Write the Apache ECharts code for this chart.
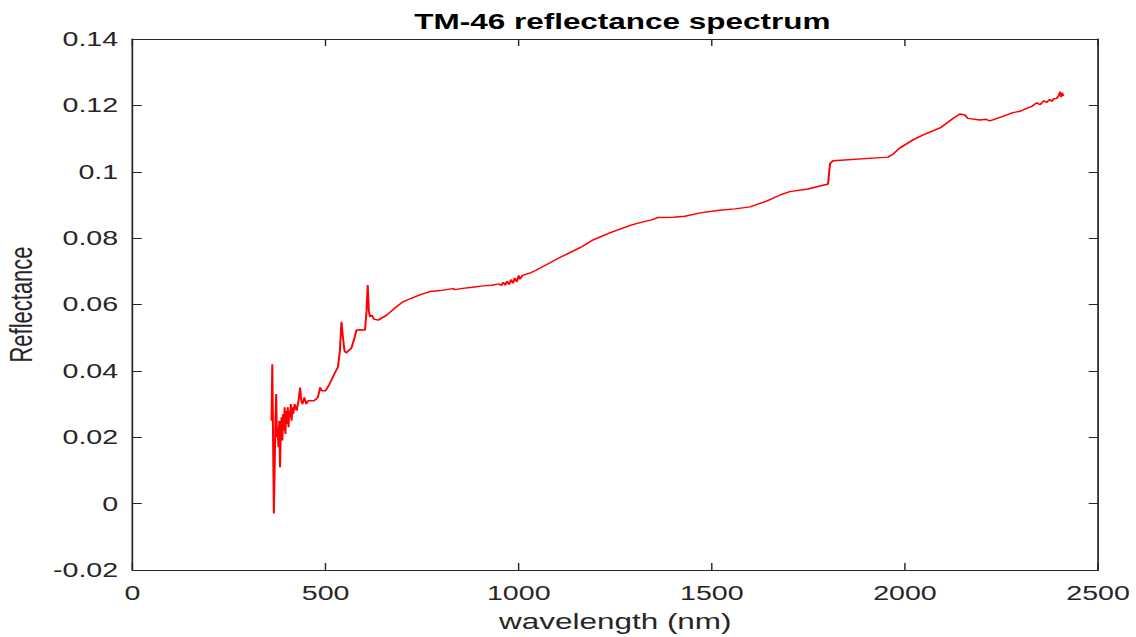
<!DOCTYPE html>
<html>
<head>
<meta charset="utf-8">
<script src="https://cdn.jsdelivr.net/npm/echarts@6/dist/echarts.min.js"></script>
<style>
html,body{margin:0;padding:0;background:#fff;overflow:hidden;width:1136px;height:637px;}
#chart{width:794px;height:637px;transform:scaleX(1.4307);transform-origin:0 0;}
</style>
</head>
<body>
<div id="chart"></div>
<script>
const titleText = 'TM-46 reflectance spectrum';
const xLabel = 'wavelength (nm)';
const yLabel = 'Reflectance';
const wavelength = [
360,362,364,366,368,370,372,374,376,378,380,382,384,386,388,390,392,394,396,398,
400,402,404,406,408,410,412,414,416,420,425,430,434,437,440,445,450,455,460,470,
480,486,490,500,510,524,532,537,541,545,549,553,567,575,580,590,602,606,609,612,
615,620,625,636,658,680,700,720,744,770,796,830,835,850,880,908,930,950,955,960,
965,970,975,980,985,990,995,1000,1003,1010,1030,1046,1080,1100,1130,1160,1190,1211,1236,1262,
1293,1322,1344,1360,1400,1430,1470,1520,1560,1599,1640,1677,1702,1749,1780,1801,1803,1806,1814,1956,
1969,1987,2021,2047,2091,2125,2142,2155,2163,2194,2210,2220,2246,2280,2300,2315,2330,2341,2350,2360,
2367,2375,2380,2385,2393,2398,2402,2404,2407,2410
];
const reflectance = [
0.025,0.042,0.020,-0.003,0.010,0.024,0.033,0.020,0.023,0.017,0.025,0.011,0.022,0.026,0.019,0.027,0.022,0.029,0.021,0.028,
0.024,0.029,0.023,0.028,0.026,0.030,0.025,0.029,0.027,0.030,0.028,0.031,0.035,0.031,0.030,0.032,0.030,0.031,0.031,0.031,
0.032,0.035,0.034,0.034,0.036,0.0394,0.0412,0.046,0.0548,0.050,0.046,0.0454,0.0469,0.050,0.0523,0.0524,0.0523,0.058,0.0659,0.058,
0.0563,0.0568,0.0556,0.0553,0.0568,0.0590,0.0608,0.0618,0.0629,0.0639,0.0642,0.0648,0.0645,0.0648,0.0652,0.0656,0.0658,0.0662,0.0657,0.0667,
0.0658,0.0670,0.0660,0.0675,0.0664,0.0680,0.0668,0.0688,0.0676,0.0688,0.0695,0.0704,0.0725,0.0738,0.0755,0.0772,0.0793,0.0804,0.0816,0.0827,
0.0840,0.0849,0.0855,0.0862,0.0863,0.0866,0.0876,0.0884,0.0888,0.0894,0.0911,0.0930,0.0940,0.0948,0.0957,0.0963,0.0963,0.1025,0.1033,0.1044,
0.1053,0.1072,0.1096,0.1111,0.1132,0.1161,0.1174,0.1171,0.1161,0.1156,0.1158,0.1153,0.1164,0.1178,0.1183,0.1191,0.1198,0.1208,0.1202,0.1214,
0.1209,0.1218,0.1212,0.1220,0.1221,0.1230,0.1241,0.1225,0.1238,0.1228
];
const xMin = 0, xMax = 2500, xStep = 500;
const yMin = -0.02, yMax = 0.14, yStep = 0.02;

const points = wavelength.map((w, i) => [w, reflectance[i]]);
const axisColor = '#262626';
const font = 'Liberation Sans, Arial, Helvetica, sans-serif';
const fmtY = v => String(parseFloat(v.toFixed(2)));
const fmtX = v => String(v);

const chart = echarts.init(document.getElementById('chart'), null, {renderer: 'svg'});
chart.setOption({
  animation: false,
  backgroundColor: '#fff',
  title: {
    text: titleText, left: 430, top: 5, textAlign: 'center',
    textStyle: {fontFamily: font, fontSize: 22, fontWeight: 'bold', color: '#000'}
  },
  grid: {left: 92.6, right: 26.5, top: 39, bottom: 67, outerBoundsMode: 'none', containLabel: false},
  xAxis: [{
    type: 'value', min: xMin, max: xMax, interval: xStep, position: 'bottom',
    name: xLabel, nameLocation: 'middle', nameGap: 40,
    nameTextStyle: {fontFamily: font, fontSize: 22, color: axisColor},
    axisLine: {show: true, onZero: false, lineStyle: {color: axisColor, width: 1.2}},
    axisTick: {show: true, inside: true, length: 7, lineStyle: {color: axisColor, width: 1}},
    axisLabel: {fontFamily: font, fontSize: 20, color: axisColor, margin: 13, formatter: fmtX},
    splitLine: {show: false}
  }, {
    type: 'value', min: xMin, max: xMax, interval: xStep, position: 'top',
    axisLine: {show: true, onZero: false, lineStyle: {color: axisColor, width: 1.2}},
    axisTick: {show: true, inside: true, length: 7, lineStyle: {color: axisColor, width: 1}},
    axisLabel: {show: false}, splitLine: {show: false}
  }],
  yAxis: [{
    type: 'value', min: yMin, max: yMax, interval: yStep, position: 'left',
    name: yLabel, nameLocation: 'middle', nameGap: 67, nameRotate: 90,
    nameTextStyle: {fontFamily: font, fontSize: 22, color: axisColor},
    axisLine: {show: true, onZero: false, lineStyle: {color: axisColor, width: 1.2}},
    axisTick: {show: true, inside: true, length: 6.5, lineStyle: {color: axisColor, width: 1}},
    axisLabel: {fontFamily: font, fontSize: 20, color: axisColor, margin: 10, formatter: fmtY},
    splitLine: {show: false}
  }, {
    type: 'value', min: yMin, max: yMax, interval: yStep, position: 'right',
    axisLine: {show: true, onZero: false, lineStyle: {color: axisColor, width: 1.2}},
    axisTick: {show: true, inside: true, length: 6.5, lineStyle: {color: axisColor, width: 1}},
    axisLabel: {show: false}, splitLine: {show: false}
  }],
  series: [{
    type: 'line', data: points, xAxisIndex: 0, yAxisIndex: 0,
    showSymbol: false, symbol: 'none',
    lineStyle: {color: '#ff0000', width: 1.4},
    emphasis: {disabled: true}
  }]
});
</script>
</body>
</html>
